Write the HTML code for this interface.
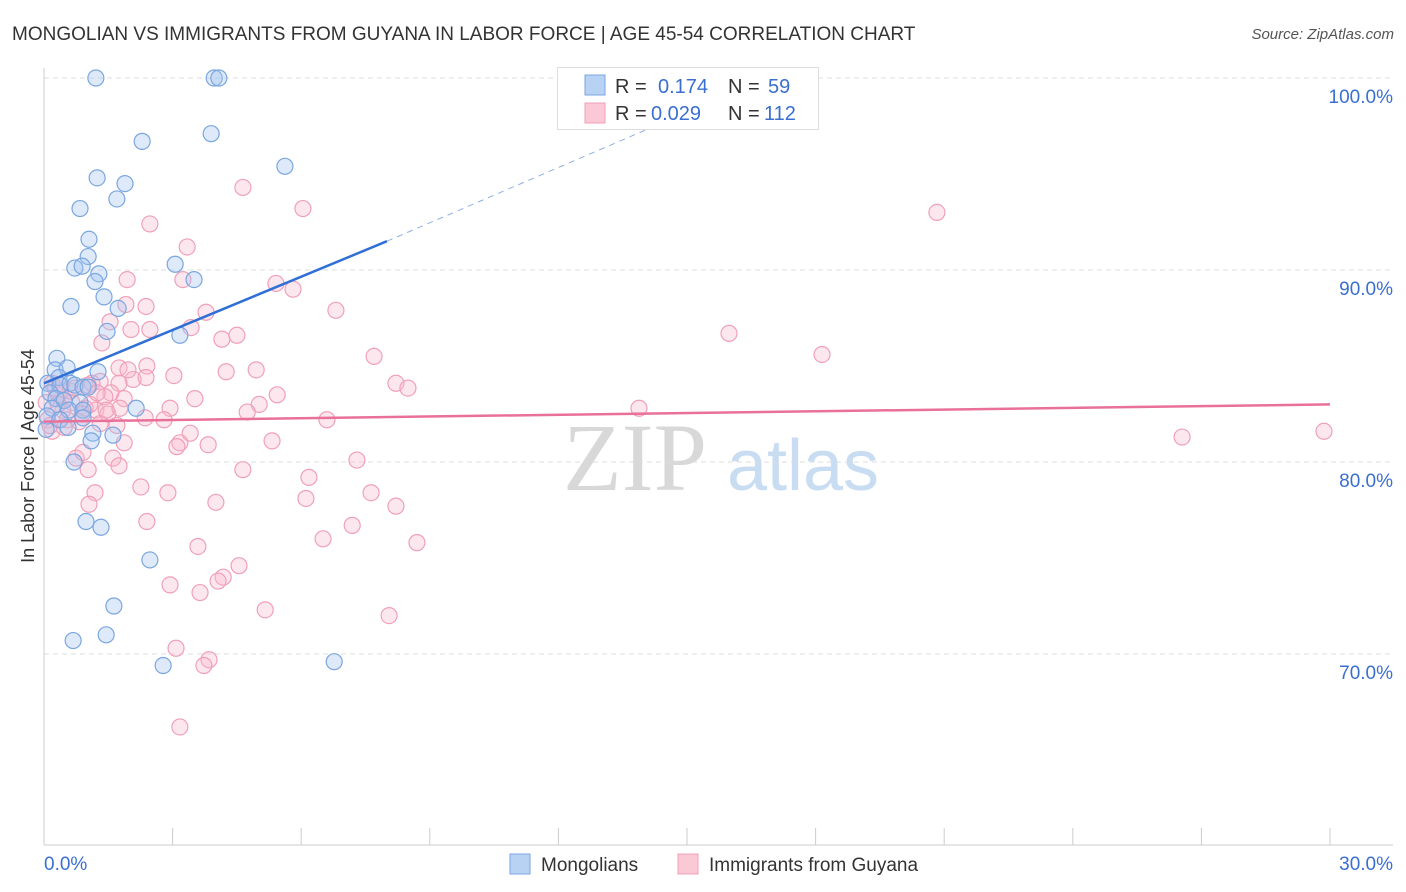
<!DOCTYPE html>
<html><head><meta charset="utf-8"><style>
body{margin:0;background:#fff;font-family:"Liberation Sans",sans-serif;}
#wrap{position:relative;width:1406px;height:892px;overflow:hidden;}
</style></head><body>
<div id="wrap">
<svg id="svg" width="1406" height="892" xmlns="http://www.w3.org/2000/svg">
<text x="12" y="40" font-size="19" fill="#333">MONGOLIAN VS IMMIGRANTS FROM GUYANA IN LABOR FORCE | AGE 45-54 CORRELATION CHART</text>
<text x="1394" y="39" font-size="15" fill="#555" font-style="italic" text-anchor="end">Source: ZipAtlas.com</text>
<text x="34" y="456" font-size="18" fill="#333" text-anchor="middle" transform="rotate(-90 34 456)">In Labor Force | Age 45-54</text>
<g><text x="635" y="490" font-size="96" fill="#d8d8d8" font-family="Liberation Serif,serif" text-anchor="middle">ZIP</text><text x="803" y="490" font-size="72" fill="#c8dcf2" text-anchor="middle">atlas</text></g>
<g id="grid"></g><g id="marks"></g><g id="trend"></g>
<g>
<rect x="557.5" y="67.5" width="261" height="62" fill="#fff" stroke="#ddd"/>
<rect x="585" y="75" width="20" height="20" fill="#b8d2f4" stroke="#7aa6e0"/>
<rect x="585" y="103" width="20" height="20" fill="#fbc8d6" stroke="#f0a0b8"/>
<text x="615" y="93" font-size="20" fill="#333">R = </text><text x="658" y="93" font-size="20" fill="#3a6fd0">0.174</text>
<text x="728" y="93" font-size="20" fill="#333">N = </text><text x="768" y="93" font-size="20" fill="#3a6fd0">59</text>
<text x="615" y="120" font-size="20" fill="#333">R = </text><text x="651" y="120" font-size="20" fill="#3a6fd0">0.029</text>
<text x="728" y="120" font-size="20" fill="#333">N = </text><text x="764" y="120" font-size="20" fill="#3a6fd0">112</text>
</g>
<g>
<rect x="510" y="854" width="20" height="20" fill="#b8d2f4" stroke="#7aa6e0"/>
<text x="541" y="871" font-size="19" fill="#333">Mongolians</text>
<rect x="678" y="854" width="20" height="20" fill="#fbc8d6" stroke="#f0a0b8"/>
<text x="709" y="871" font-size="19" fill="#333">Immigrants from Guyana</text>
</g>
</svg>
</div>
<script>
const yTicks=[70,80,90,100];
const yTickLabels=["70.0%","80.0%","90.0%","100.0%"];
const xEndLabels=["0.0%","30.0%"];
const blueX=[1.21,3.97,4.08,2.29,3.90,5.62,1.24,1.89,1.70,0.84,1.05,1.03,0.72,0.89,1.28,1.19,3.06,3.50,0.63,1.40,1.73,1.47,3.17,0.30,0.26,0.54,1.26,0.35,0.09,0.37,0.61,0.72,0.91,1.03,0.14,0.28,0.47,0.84,0.19,0.58,0.91,2.15,0.07,0.37,0.91,0.56,1.14,1.61,1.10,0.70,0.98,1.33,2.47,1.63,1.45,0.68,2.78,6.77,0.05];
const blueY=[100,100,100,96.7,97.1,95.4,94.8,94.5,93.7,93.2,91.6,90.7,90.1,90.2,89.8,89.4,90.3,89.5,88.1,88.6,88.0,86.8,86.6,85.4,84.8,84.9,84.7,84.4,84.1,84.0,84.1,84.0,83.9,83.9,83.6,83.3,83.2,83.1,82.8,82.7,82.7,82.8,82.4,82.2,82.3,81.8,81.5,81.4,81.1,80.0,76.9,76.6,74.9,72.5,71.0,70.7,69.4,69.6,81.7];
const pinkX=[20.83,15.98,18.15,13.88,26.55,29.86,4.64,6.04,2.47,3.34,1.94,3.24,5.41,5.81,2.38,1.91,3.78,6.81,1.54,2.03,2.47,3.43,4.50,4.15,1.35,7.70,1.75,2.40,3.03,4.95,4.25,8.21,8.49,1.31,2.08,1.75,5.44,3.52,1.87,1.56,5.02,2.94,2.36,2.80,4.74,6.60,1.21,1.49,0.96,0.47,0.44,0.65,1.07,0.33,0.09,0.19,0.82,1.31,1.70,3.41,5.32,3.83,3.17,3.10,1.87,1.61,1.75,0.75,1.03,4.64,6.18,7.30,2.26,2.89,1.19,6.11,7.63,4.01,8.21,1.05,2.40,7.19,6.51,8.70,3.59,4.55,2.94,4.18,4.06,3.64,5.16,8.05,3.08,3.85,3.73,3.17,0.19,0.26,0.61,0.40,0.05,0.33,0.72,1.12,1.42,0.89,0.54,0.14,0.47,1.03,1.96,1.24,2.38,1.77,0.91,1.45];
const pinkY=[93.0,86.7,85.6,82.8,81.3,81.6,94.3,93.2,92.4,91.2,89.5,89.5,89.3,89.0,88.1,88.2,87.8,87.9,87.3,86.9,86.9,87.0,86.6,86.4,86.2,85.5,84.9,85.0,84.5,84.8,84.7,84.1,83.85,84.2,84.3,84.1,83.5,83.3,83.3,83.6,83.0,82.8,82.3,82.2,82.6,82.2,82.7,82.5,82.8,83.2,82.7,83.1,83.0,83.5,82.2,81.6,82.1,82.0,81.9,81.5,81.1,80.9,81.0,80.8,81.0,80.2,79.8,80.2,79.6,79.6,79.2,80.1,78.7,78.4,78.4,78.1,78.4,77.9,77.7,77.8,76.9,76.7,76.0,75.8,75.6,74.6,73.6,74.0,73.8,73.2,72.3,72.0,70.3,69.7,69.4,66.2,84.1,83.85,83.7,84.0,83.1,83.0,83.85,84.1,83.4,82.5,82.2,81.9,81.8,84.0,84.8,83.6,84.4,82.8,80.5,82.7];
const blueTrend=[[0,84.1],[8.0,91.5]];
const blueDash=[[8.0,91.5],[15.4,98.6]];
const pinkTrend=[[0,82.1],[30,83.0]];
const NS="http://www.w3.org/2000/svg";
const sx=v=>44+v/30*1286;
const sy=v=>78+(100-v)*19.2;
function mk(tag,attrs,parent){const e=document.createElementNS(NS,tag);for(const k in attrs)e.setAttribute(k,attrs[k]);parent.appendChild(e);return e;}
const grid=document.getElementById('grid');
yTicks.forEach((t,i)=>{
  const l=mk('line',{x1:44,x2:1393,y1:sy(t),y2:sy(t),stroke:'#ddd','stroke-dasharray':'5,4'},grid);
  
  
  const tx=mk('text',{x:1393,y:sy(t)+25,'font-size':19,fill:'#3a6fd0','text-anchor':'end'},grid);
  tx.textContent=yTickLabels[i];
  
  
});
const ax=mk('line',{x1:44,x2:1393,y1:845,y2:845,stroke:'#ccc'},grid);


const ay=mk('line',{x1:44,x2:44,y1:68,y2:845,stroke:'#ccc'},grid);


for(let i=0;i<=10;i++){
  const t=mk('line',{x1:sx(i*3),x2:sx(i*3),y1:828,y2:845,stroke:'#ccc'},grid);
  
  
}
const xl0=mk('text',{x:44,y:870,'font-size':19,fill:'#3a6fd0'},grid);xl0.textContent=xEndLabels[0];


const xl1=mk('text',{x:1393,y:870,'font-size':19,fill:'#3a6fd0','text-anchor':'end'},grid);xl1.textContent=xEndLabels[1];


const marks=document.getElementById('marks');
pinkX.forEach((x,i)=>{
  const c=mk('circle',{cx:sx(x),cy:sy(pinkY[i]),r:8,fill:'rgba(248,185,205,0.35)',stroke:'#f0a0b8','stroke-width':1.2},marks);
  
  
});
blueX.forEach((x,i)=>{
  const c=mk('circle',{cx:sx(x),cy:sy(blueY[i]),r:8,fill:'rgba(160,195,240,0.35)',stroke:'#7aa6e0','stroke-width':1.2},marks);
  
  
});
const tr=document.getElementById('trend');
const b=mk('line',{x1:sx(blueTrend[0][0]),y1:sy(blueTrend[0][1]),x2:sx(blueTrend[1][0]),y2:sy(blueTrend[1][1]),stroke:'#2f6fd6','stroke-width':2.5},tr);


const bd=mk('line',{x1:sx(blueDash[0][0]),y1:sy(blueDash[0][1]),x2:sx(blueDash[1][0]),y2:sy(blueDash[1][1]),stroke:'#8fb0e4','stroke-width':1,'stroke-dasharray':'6,5'},tr);


const p=mk('line',{x1:sx(pinkTrend[0][0]),y1:sy(pinkTrend[0][1]),x2:sx(pinkTrend[1][0]),y2:sy(pinkTrend[1][1]),stroke:'#e8709a','stroke-width':2.5},tr);


</script>
</body></html>
